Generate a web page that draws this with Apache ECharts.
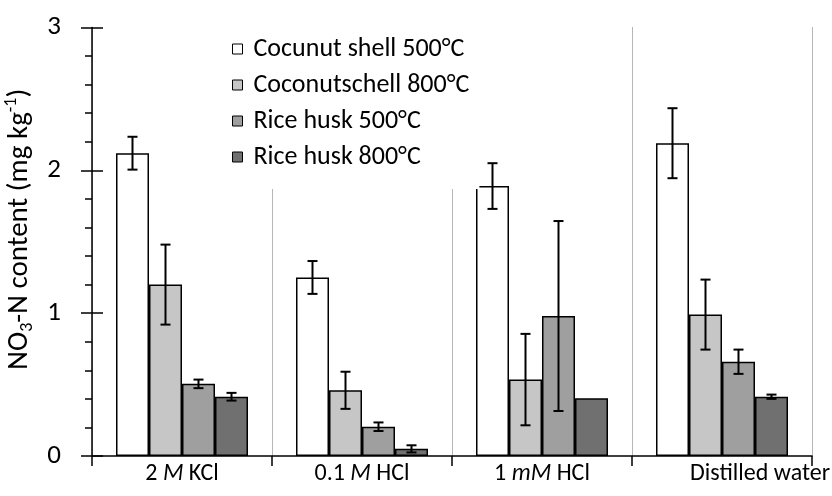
<!DOCTYPE html>
<html>
<head>
<meta charset="utf-8">
<script src="https://cdn.jsdelivr.net/npm/echarts@6/dist/echarts.min.js"></script>
<style>
html,body{margin:0;padding:0;background:#fff;}
#chart{width:832px;height:496px;}
</style>
</head>
<body>
<div id="chart"></div>
<script>
const categories = ['2 M KCl', '0.1 M HCl', '1 mM HCl', 'Distilled water'];
const seriesNames = ['Cocunut shell 500°C', 'Coconutschell 800°C', 'Rice husk 500°C', 'Rice husk 800°C'];
const cocoShell500 = [2.12, 1.25, 1.89, 2.19];
const cocoShell800 = [1.20, 0.46, 0.535, 0.99];
const riceHusk500 = [0.505, 0.205, 0.98, 0.66];
const riceHusk800 = [0.415, 0.05, 0.405, 0.415];
const cocoShell500Err = [0.115, 0.115, 0.16, 0.245];
const cocoShell800Err = [0.28, 0.13, 0.32, 0.245];
const riceHusk500Err = [0.03, 0.03, 0.665, 0.085];
const riceHusk800Err = [0.027, 0.025, 0, 0.015];
const yTicks = [0, 1, 2, 3];

const values = [cocoShell500, cocoShell800, riceHusk500, riceHusk800];
const errors = [cocoShell500Err, cocoShell800Err, riceHusk500Err, riceHusk800Err];
const colors = ['#ffffff', '#c6c6c6', '#9f9f9f', '#707070'];
const BAR_W = 33;
const FONT = 'Carlito, Lato, "Open Sans", sans-serif';

const chart = echarts.init(document.getElementById('chart'));

const barSeries = values.map((vals, s) => ({
  name: seriesNames[s],
  type: 'bar',
  data: vals,
  barWidth: BAR_W,
  barGap: '0%',
  itemStyle: { color: colors[s], borderColor: '#000', borderWidth: 1.5 },
  z: 3
}));

const errData = [];
values.forEach((vals, s) => vals.forEach((v, c) => errData.push([c, s, v, errors[s][c]])));

const errSeries = {
  type: 'custom',
  name: 'err',
  data: errData,
  z: 5,
  silent: true,
  encode: { x: 0, y: 2 },
  renderItem: function (params, api) {
    const c = api.value(0), s = api.value(1), v = api.value(2), e = api.value(3);
    if (!e) return null;
    const cx = api.coord([c, v])[0] + (s - 1.5) * BAR_W;
    const yt = api.coord([c, v + e])[1];
    const yb = api.coord([c, v - e])[1];
    const hw = 5;
    const st = { stroke: '#000', lineWidth: 2 };
    return {
      type: 'group',
      children: [
        { type: 'line', shape: { x1: cx, y1: yt, x2: cx, y2: yb }, style: st },
        { type: 'line', shape: { x1: cx - hw, y1: yt, x2: cx + hw, y2: yt }, style: st },
        { type: 'line', shape: { x1: cx - hw, y1: yb, x2: cx + hw, y2: yb }, style: st }
      ]
    };
  }
};

const option = {
  animation: false,
  backgroundColor: '#fff',
  textStyle: { fontFamily: FONT },
  grid: { left: 92, right: 20, top: 27.5, bottom: 40, containLabel: false, outerBoundsMode: 'none' },
  legend: {
    data: seriesNames,
    orient: 'vertical',
    left: 222,
    top: 20,
    padding: [16, 10, 19, 10],
    backgroundColor: '#fff',
    itemWidth: 10,
    itemHeight: 10,
    itemGap: 10,
    icon: 'rect',
    itemStyle: { borderWidth: 1, borderColor: '#000' },
    textStyle: { fontSize: 26, lineHeight: 25, color: '#000', fontFamily: FONT, padding: [0, 0, 0, 6] },
    z: 10
  },
  xAxis: {
    type: 'category',
    data: categories.map((c, i) => i === categories.length - 1 ? { value: c, textStyle: { padding: [0, 0, 0, 76] } } : c),
    axisLine: { lineStyle: { color: '#000', width: 1.5 } },
    axisTick: { show: true, length: 10, lineStyle: { color: '#000', width: 1.5 } },
    splitLine: { show: true, lineStyle: { color: '#6e6e6e', type: 'dotted', width: 1 } },
    axisLabel: {
      interval: 0,
      hideOverlap: false,
      fontSize: 24,
      color: '#000',
      margin: 6,
      fontFamily: FONT,
      formatter: function (v) { return v.replace(/\b(m?M)\b/, '{i|$1}'); },
      rich: { i: { fontSize: 24, fontStyle: 'italic', color: '#000', fontFamily: FONT } }
    }
  },
  yAxis: [{
    type: 'value',
    min: yTicks[0],
    max: yTicks[yTicks.length - 1],
    interval: 1,
    name: '{n|NO}{s|3}{n|-N content (mg kg}{p|-1}{n|)}',
    nameLocation: 'middle',
    nameRotate: 90,
    nameGap: 37,
    nameTextStyle: {
      padding: [0, 0, 0, 25],
      rich: {
        n: { fontSize: 29, color: '#000', fontFamily: FONT, lineHeight: 34 },
        s: { fontSize: 18, color: '#000', fontFamily: FONT, lineHeight: 17, verticalAlign: 'bottom' },
        p: { fontSize: 18, color: '#000', fontFamily: FONT, lineHeight: 17, verticalAlign: 'top' }
      }
    },
    axisLine: { show: true, lineStyle: { color: '#000', width: 1.5 } },
    axisTick: { show: true, inside: false, length: 11, lineStyle: { color: '#000', width: 1.5 } },
    minorTick: { show: true, splitNumber: 5, length: 7, lineStyle: { color: '#000', width: 1.5 } },
    splitLine: { show: false },
    axisLabel: { fontSize: 27, color: '#000', margin: 31, fontFamily: FONT }
  }, {
    type: 'value',
    position: 'left',
    min: yTicks[0],
    max: yTicks[yTicks.length - 1],
    interval: 1,
    axisLine: { show: false },
    axisTick: { show: true, inside: true, length: 11, lineStyle: { color: '#000', width: 1.5 } },
    axisLabel: { show: false },
    splitLine: { show: false }
  }],
  series: [...barSeries, errSeries]
};

chart.setOption(option);
</script>
</body>
</html>
